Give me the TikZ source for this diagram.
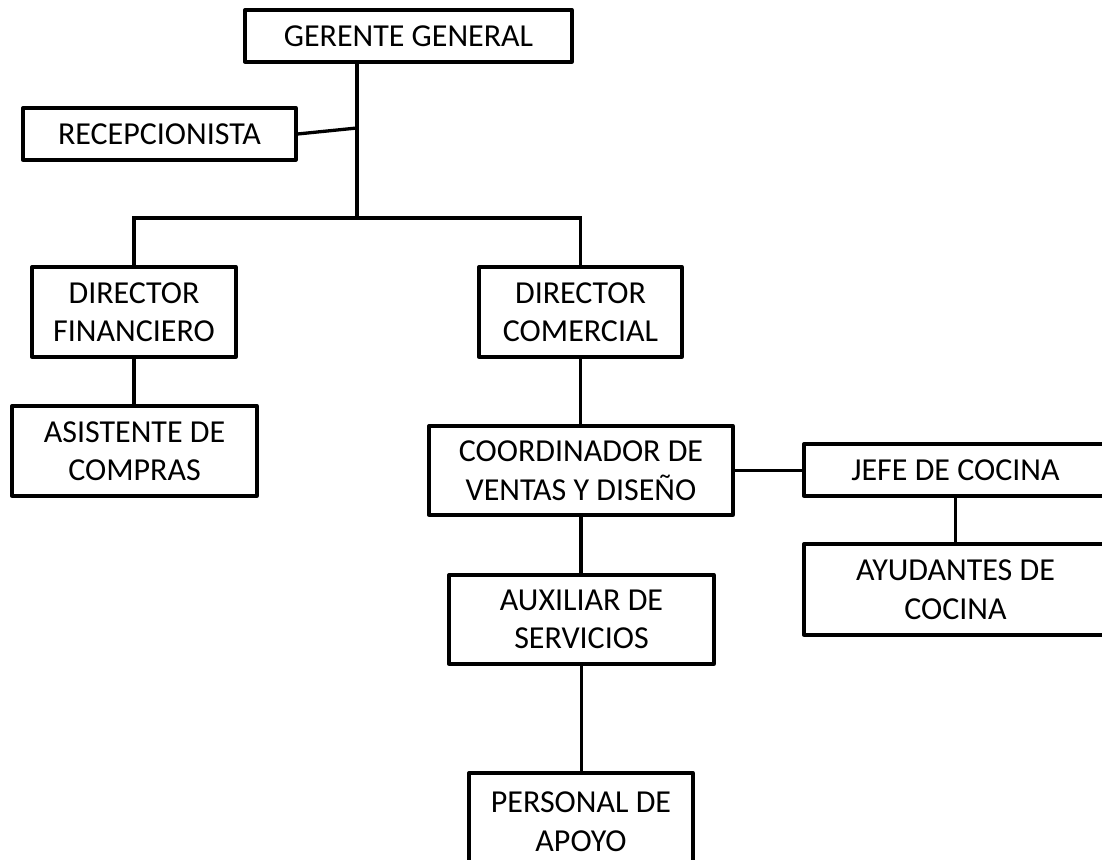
\documentclass[tikz,border=0pt]{standalone}
\usepackage{fontspec}
\setmainfont{Carlito}
\begin{document}
\begin{tikzpicture}[x=1pt,y=1pt,
  box/.style={draw=black, line width=3.3pt, line join=round, fill=white, inner sep=0pt,
    align=center, font=\fontsize{32}{38.5}\selectfont, anchor=center},
  link/.style={draw=black, line width=3.3pt}]
\useasboundingbox (0,0) rectangle (1102,859);
\clip (0,0) rectangle (1102,859);
\fill[white] (0,0) rectangle (1102,859);

\node[box, minimum width=327pt, minimum height=52pt] (ger) at (408.5,823) {GERENTE GENERAL};
\node[box, minimum width=273pt, minimum height=52pt] (rec) at (159.5,725) {RECEPCIONISTA};
\node[box, minimum width=204pt, minimum height=90pt] (dirfin) at (134,547) {DIRECTOR\\FINANCIERO};
\node[box, minimum width=245pt, minimum height=90pt] (asis) at (134.5,408) {ASISTENTE DE\\COMPRAS};
\node[box, minimum width=203pt, minimum height=90pt] (dircom) at (580.5,547) {DIRECTOR\\COMERCIAL};
\node[box, minimum width=304pt, minimum height=89pt] (coord) at (581,388.5) {COORDINADOR DE\\VENTAS Y DISEÑO};
\node[box, minimum width=303pt, minimum height=52pt] (jefe) at (955.5,389) {JEFE DE COCINA};
\node[box, minimum width=303pt, minimum height=91pt] (ayud) at (955.5,269.5) {AYUDANTES DE\\COCINA};
\node[box, minimum width=265pt, minimum height=89pt] (aux) at (581.5,239.5) {AUXILIAR DE\\SERVICIOS};
\node[box, minimum width=224pt, minimum height=97pt] (pers) at (581,37.5) {PERSONAL DE\\APOYO};

\coordinate (bus) at (357,641);
\coordinate (rj) at (357,731);

\draw[link] (ger.south -| bus) -- (bus);
\draw[link] (rec.east) -- (rj);
\draw[link] (dirfin.north) |- (bus) -| (dircom.north);
\draw[link] (dirfin.south) -- (dirfin.south |- asis.north);
\draw[link] (dircom.south) -- (dircom.south |- coord.north);
\draw[link] (coord.east) -- (coord.east -| jefe.west);
\draw[link] (jefe.south) -- (jefe.south |- ayud.north);
\draw[link] (coord.south) -- (coord.south |- aux.north);
\draw[link] (aux.south) -- (aux.south |- pers.north);
\end{tikzpicture}
\end{document}
